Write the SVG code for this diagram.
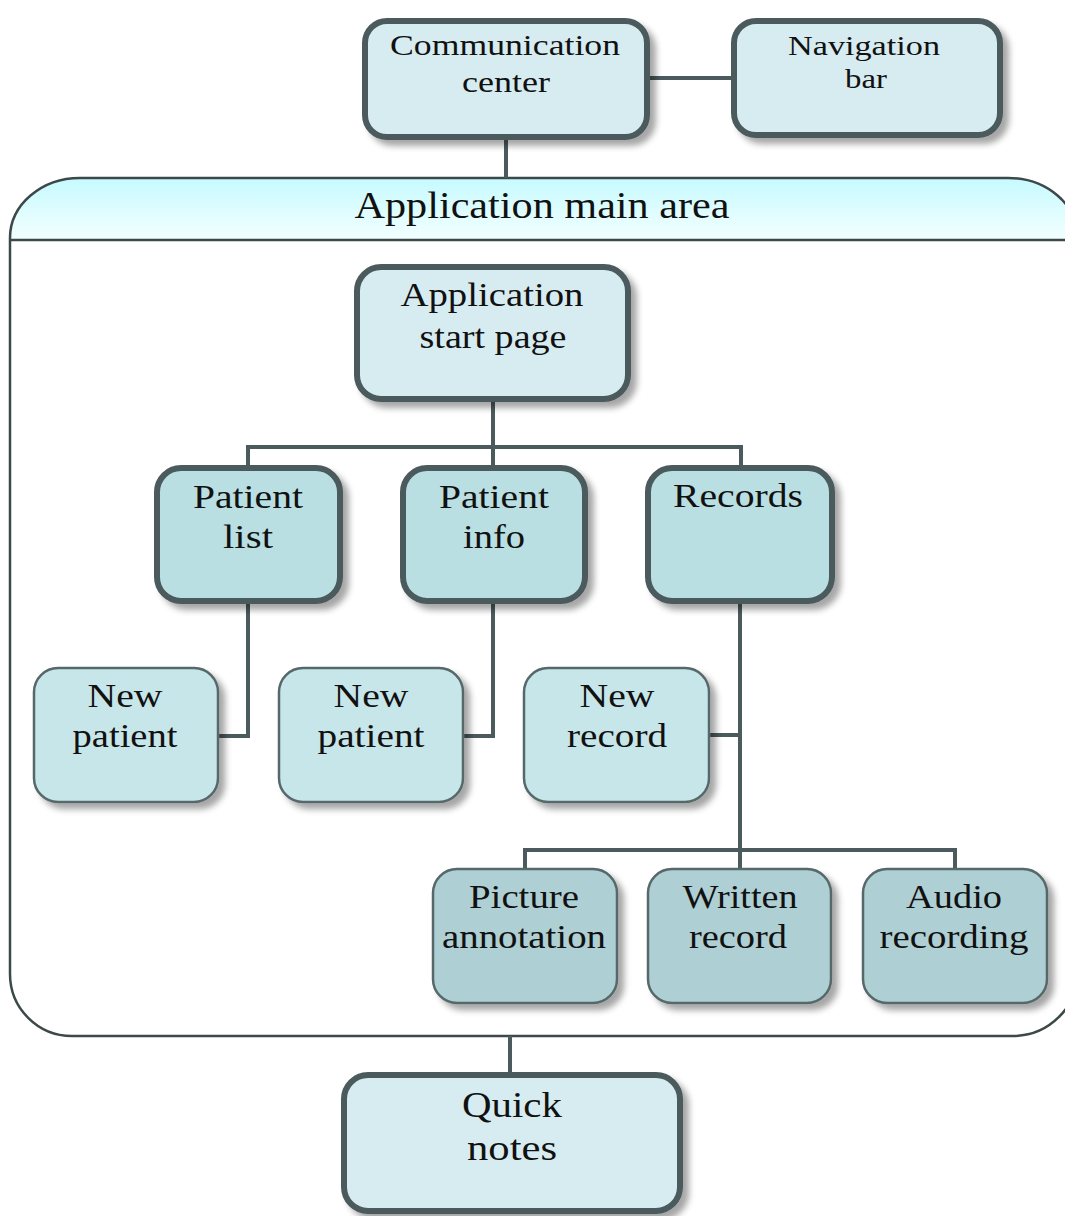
<svg xmlns="http://www.w3.org/2000/svg" width="1065" height="1216" viewBox="0 0 1065 1216">
<defs>
  <linearGradient id="hdr" x1="0" y1="0" x2="0" y2="1">
    <stop offset="0" stop-color="#c6faff"/>
    <stop offset="1" stop-color="#f3ffff"/>
  </linearGradient>
  <filter id="sh" x="-10%" y="-10%" width="130%" height="130%">
    <feDropShadow dx="6" dy="6" stdDeviation="3" flood-color="#000" flood-opacity="0.35"/>
  </filter>
</defs>
<style>
  .t { font-family: "Liberation Serif", "Times New Roman", serif; fill: #111; text-anchor: middle; }
  .thick { stroke: #4b5a5c; stroke-width: 6; filter: url(#sh); }
  .thin { stroke: #56686a; stroke-width: 2.5; filter: url(#sh); }
  .l1 { fill: #d7ecf0; }
  .l2 { fill: #b9dfe3; }
  .l3 { fill: #c7e6e9; }
  .l4 { fill: #aecfd3; }
  .conn { fill: none; stroke: #4b5a5c; stroke-width: 4; }
</style>

<g id="container">
  <path d="M10,240 L10,238 A70,60 0 0 1 80,178 L1008,178 A70,60 0 0 1 1078,238 L1078,240 Z" fill="url(#hdr)"/>
  <path d="M10,238 A70,60 0 0 1 80,178 L1008,178 A70,60 0 0 1 1078,238 L1078,971 A65,65 0 0 1 1013,1036 L72,1036 A62,62 0 0 1 10,974 Z" fill="none" stroke="#3d4849" stroke-width="2.5"/>
  <line x1="10" y1="240" x2="1078" y2="240" stroke="#3d4849" stroke-width="2.5"/>
  <text class="t" x="542" y="218" font-size="38" textLength="375" lengthAdjust="spacingAndGlyphs">Application main area</text>
</g>

<g id="connectors">
  <line class="conn" x1="648" y1="78" x2="733" y2="78" stroke-width="3"/>
  <line class="conn" x1="506" y1="138" x2="506" y2="178" stroke-width="3"/>
  <line class="conn" x1="493" y1="400" x2="493" y2="447"/>
  <path class="conn" d="M248,467 L248,447 L741,447 L741,467 M493,447 L493,467"/>
  <path class="conn" d="M248,602 L248,736 L218,736"/>
  <path class="conn" d="M493,602 L493,736 L463,736"/>
  <path class="conn" d="M740,602 L740,869 M740,735 L710,735"/>
  <path class="conn" d="M525,869 L525,850 L955,850 L955,869"/>
  <line class="conn" x1="510" y1="1036" x2="510" y2="1073" stroke-width="3"/>
</g>

<g id="communication-center">
  <rect class="thick l1" x="365" y="21" width="282" height="116" rx="22"/>
  <text class="t" x="505" y="55" font-size="29" textLength="230" lengthAdjust="spacingAndGlyphs">Communication</text>
  <text class="t" x="506" y="92" font-size="29" textLength="88" lengthAdjust="spacingAndGlyphs">center</text>
</g>

<g id="navigation-bar">
  <rect class="thick l1" x="734" y="21" width="266" height="114" rx="22"/>
  <text class="t" x="864" y="55" font-size="28" textLength="152" lengthAdjust="spacingAndGlyphs">Navigation</text>
  <text class="t" x="866" y="88" font-size="28" textLength="42" lengthAdjust="spacingAndGlyphs">bar</text>
</g>

<g id="application-start-page">
  <rect class="thick l1" x="357" y="267" width="271" height="132" rx="24"/>
  <text class="t" x="492" y="306" font-size="34" textLength="183" lengthAdjust="spacingAndGlyphs">Application</text>
  <text class="t" x="493" y="348" font-size="34" textLength="147" lengthAdjust="spacingAndGlyphs">start page</text>
</g>

<g id="patient-list">
  <rect class="thick l2" x="157" y="468" width="183" height="133" rx="24"/>
  <text class="t" x="248" y="508" font-size="34" textLength="110" lengthAdjust="spacingAndGlyphs">Patient</text>
  <text class="t" x="248" y="548" font-size="34" textLength="50" lengthAdjust="spacingAndGlyphs">list</text>
</g>

<g id="patient-info">
  <rect class="thick l2" x="403" y="468" width="182" height="133" rx="24"/>
  <text class="t" x="494" y="508" font-size="34" textLength="110" lengthAdjust="spacingAndGlyphs">Patient</text>
  <text class="t" x="494" y="548" font-size="34" textLength="62" lengthAdjust="spacingAndGlyphs">info</text>
</g>

<g id="records">
  <rect class="thick l2" x="648" y="468" width="184" height="133" rx="24"/>
  <text class="t" x="738" y="507" font-size="34" textLength="130" lengthAdjust="spacingAndGlyphs">Records</text>
</g>

<g id="new-patient-1">
  <rect class="thin l3" x="34" y="668" width="184" height="134" rx="24"/>
  <text class="t" x="125" y="707" font-size="34" textLength="75" lengthAdjust="spacingAndGlyphs">New</text>
  <text class="t" x="125" y="747" font-size="34" textLength="105" lengthAdjust="spacingAndGlyphs">patient</text>
</g>

<g id="new-patient-2">
  <rect class="thin l3" x="279" y="668" width="184" height="134" rx="24"/>
  <text class="t" x="371" y="707" font-size="34" textLength="75" lengthAdjust="spacingAndGlyphs">New</text>
  <text class="t" x="371" y="747" font-size="34" textLength="107" lengthAdjust="spacingAndGlyphs">patient</text>
</g>

<g id="new-record">
  <rect class="thin l3" x="524" y="668" width="185" height="134" rx="24"/>
  <text class="t" x="617" y="707" font-size="34" textLength="75" lengthAdjust="spacingAndGlyphs">New</text>
  <text class="t" x="617" y="747" font-size="34" textLength="100" lengthAdjust="spacingAndGlyphs">record</text>
</g>

<g id="picture-annotation">
  <rect class="thin l4" x="433" y="869" width="184" height="134" rx="24"/>
  <text class="t" x="524" y="908" font-size="34" textLength="110" lengthAdjust="spacingAndGlyphs">Picture</text>
  <text class="t" x="524" y="948" font-size="34" textLength="164" lengthAdjust="spacingAndGlyphs">annotation</text>
</g>

<g id="written-record">
  <rect class="thin l4" x="648" y="869" width="183" height="134" rx="24"/>
  <text class="t" x="740" y="908" font-size="34" textLength="115" lengthAdjust="spacingAndGlyphs">Written</text>
  <text class="t" x="738" y="948" font-size="34" textLength="98" lengthAdjust="spacingAndGlyphs">record</text>
</g>

<g id="audio-recording">
  <rect class="thin l4" x="863" y="869" width="184" height="134" rx="24"/>
  <text class="t" x="954" y="908" font-size="34" textLength="96" lengthAdjust="spacingAndGlyphs">Audio</text>
  <text class="t" x="954" y="948" font-size="34" textLength="149" lengthAdjust="spacingAndGlyphs">recording</text>
</g>

<g id="quick-notes">
  <rect class="thick l1" x="344" y="1075" width="336" height="136" rx="24"/>
  <text class="t" x="512" y="1117" font-size="36" textLength="100" lengthAdjust="spacingAndGlyphs">Quick</text>
  <text class="t" x="512" y="1160" font-size="36" textLength="90" lengthAdjust="spacingAndGlyphs">notes</text>
</g>
</svg>
